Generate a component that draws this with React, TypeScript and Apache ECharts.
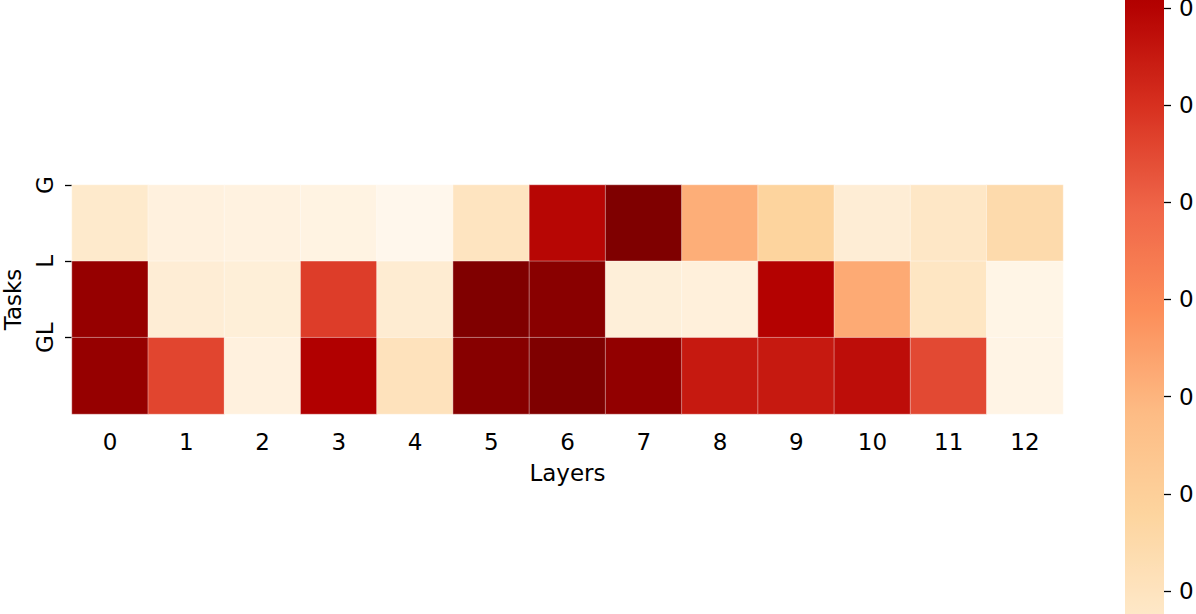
import React, { useEffect, useRef } from "react";
import * as echarts from "echarts";

const layers = ["0", "1", "2", "3", "4", "5", "6", "7", "8", "9", "10", "11", "12"];
const tasks = ["G", "L", "GL"];
const gValues = [0.162, 0.112, 0.104, 0.099, 0.07, 0.196, 0.792, 0.91, 0.414, 0.28, 0.137, 0.179, 0.246];
const lValues = [0.864, 0.137, 0.129, 0.675, 0.146, 0.908, 0.889, 0.125, 0.12, 0.801, 0.423, 0.188, 0.087];
const glValues = [0.864, 0.658, 0.112, 0.809, 0.204, 0.893, 0.91, 0.872, 0.75, 0.75, 0.776, 0.65, 0.091];
const colorbarTicks = [0.2, 0.3, 0.4, 0.5, 0.6, 0.7, 0.8];
const vMin = 0.07;
const vMax = 0.91;
// visible part of the colour bar (it is cut by the picture's edges)
const barVisibleMin = 0.1763;
const barVisibleMax = 0.8082;
const orRd = ["#fff7ec", "#fee8c8", "#fdd49e", "#fdbb84", "#fc8d59", "#ef6548", "#d7301f", "#b30000", "#7f0000"];

const FONT = "DejaVu Sans";

export default function App() {
  const ref = useRef<HTMLDivElement>(null);
  useEffect(() => {
    if (!ref.current) return;
    const chart = echarts.init(ref.current, null, { renderer: "svg" });
    const rows = [gValues, lValues, glValues];
    const data: [number, number, number][] = [];
    rows.forEach((vals, r) => vals.forEach((v, c) => data.push([c, r, v])));
    const textStyle = { fontFamily: FONT, fontSize: 23, color: "#000" };
    const tickStyle = { color: "#000", width: 1.3 };
    chart.setOption({
      animation: false,
      backgroundColor: "#fff",
      textStyle: { fontFamily: FONT },
      grid: [
        { left: 72, top: 185, width: 991, height: 229, containLabel: false, outerBoundsMode: "none" },
        { left: 1125, top: 0, width: 39, height: 614, containLabel: false, outerBoundsMode: "none" },
      ],
      xAxis: [
        {
          type: "category",
          gridIndex: 0,
          data: layers,
          position: "bottom",
          axisLine: { show: false },
          axisTick: { show: true, alignWithLabel: true, length: 7, lineStyle: tickStyle },
          axisLabel: { ...textStyle, margin: 16 },
          splitLine: { show: false },
          name: "Layers",
          nameLocation: "middle",
          nameGap: 47,
          nameTextStyle: { ...textStyle },
        },
        { type: "category", gridIndex: 1, show: false, data: ["bar"] },
      ],
      yAxis: [
        { type: "category", gridIndex: 0, data: tasks, inverse: true, show: false },
        {
          type: "value",
          gridIndex: 0,
          min: 0,
          max: 3,
          inverse: true,
          position: "left",
          axisLine: { show: false, onZero: false },
          splitLine: { show: false },
          axisTick: { show: true, length: 7, customValues: [0, 1, 2], lineStyle: tickStyle },
          axisLabel: {
            ...textStyle,
            customValues: [0, 1, 2],
            rotate: 90,
            margin: 16,
            formatter: (v: number) => tasks[v] ?? "",
          },
          name: "Tasks",
          nameLocation: "middle",
          nameRotate: 90,
          nameGap: 48,
          nameTextStyle: { ...textStyle },
        },
        {
          type: "value",
          gridIndex: 1,
          min: barVisibleMin,
          max: barVisibleMax,
          position: "right",
          axisLine: { show: false, onZero: false },
          splitLine: { show: false },
          axisTick: { show: true, length: 7, customValues: colorbarTicks, lineStyle: tickStyle },
          axisLabel: { ...textStyle, customValues: colorbarTicks, margin: 15, formatter: () => "0" },
          z: 10,
        },
      ],
      visualMap: {
        type: "continuous",
        min: vMin,
        max: vMax,
        seriesIndex: 0,
        inRange: { color: orRd },
        orient: "vertical",
        left: 1125,
        top: -99,
        itemWidth: 39,
        itemHeight: 816,
        padding: 0,
        text: ["", ""],
        showLabel: false,
        calculable: false,
        hoverLink: false,
        z: 1,
      },
      series: [
        {
          type: "heatmap",
          xAxisIndex: 0,
          yAxisIndex: 0,
          data,
          itemStyle: { borderColor: "rgba(255,255,255,0.55)", borderWidth: 0.7 },
          emphasis: { disabled: true },
          label: { show: false },
        },
        {
          type: "scatter",
          xAxisIndex: 1,
          yAxisIndex: 2,
          data: [],
          silent: true,
        },
      ],
    });
    return () => chart.dispose();
  }, []);
  return (
    <div
      ref={ref}
      style={{ position: "absolute", left: 0, top: 0, width: 1196, height: 614 }}
    />
  );
}
